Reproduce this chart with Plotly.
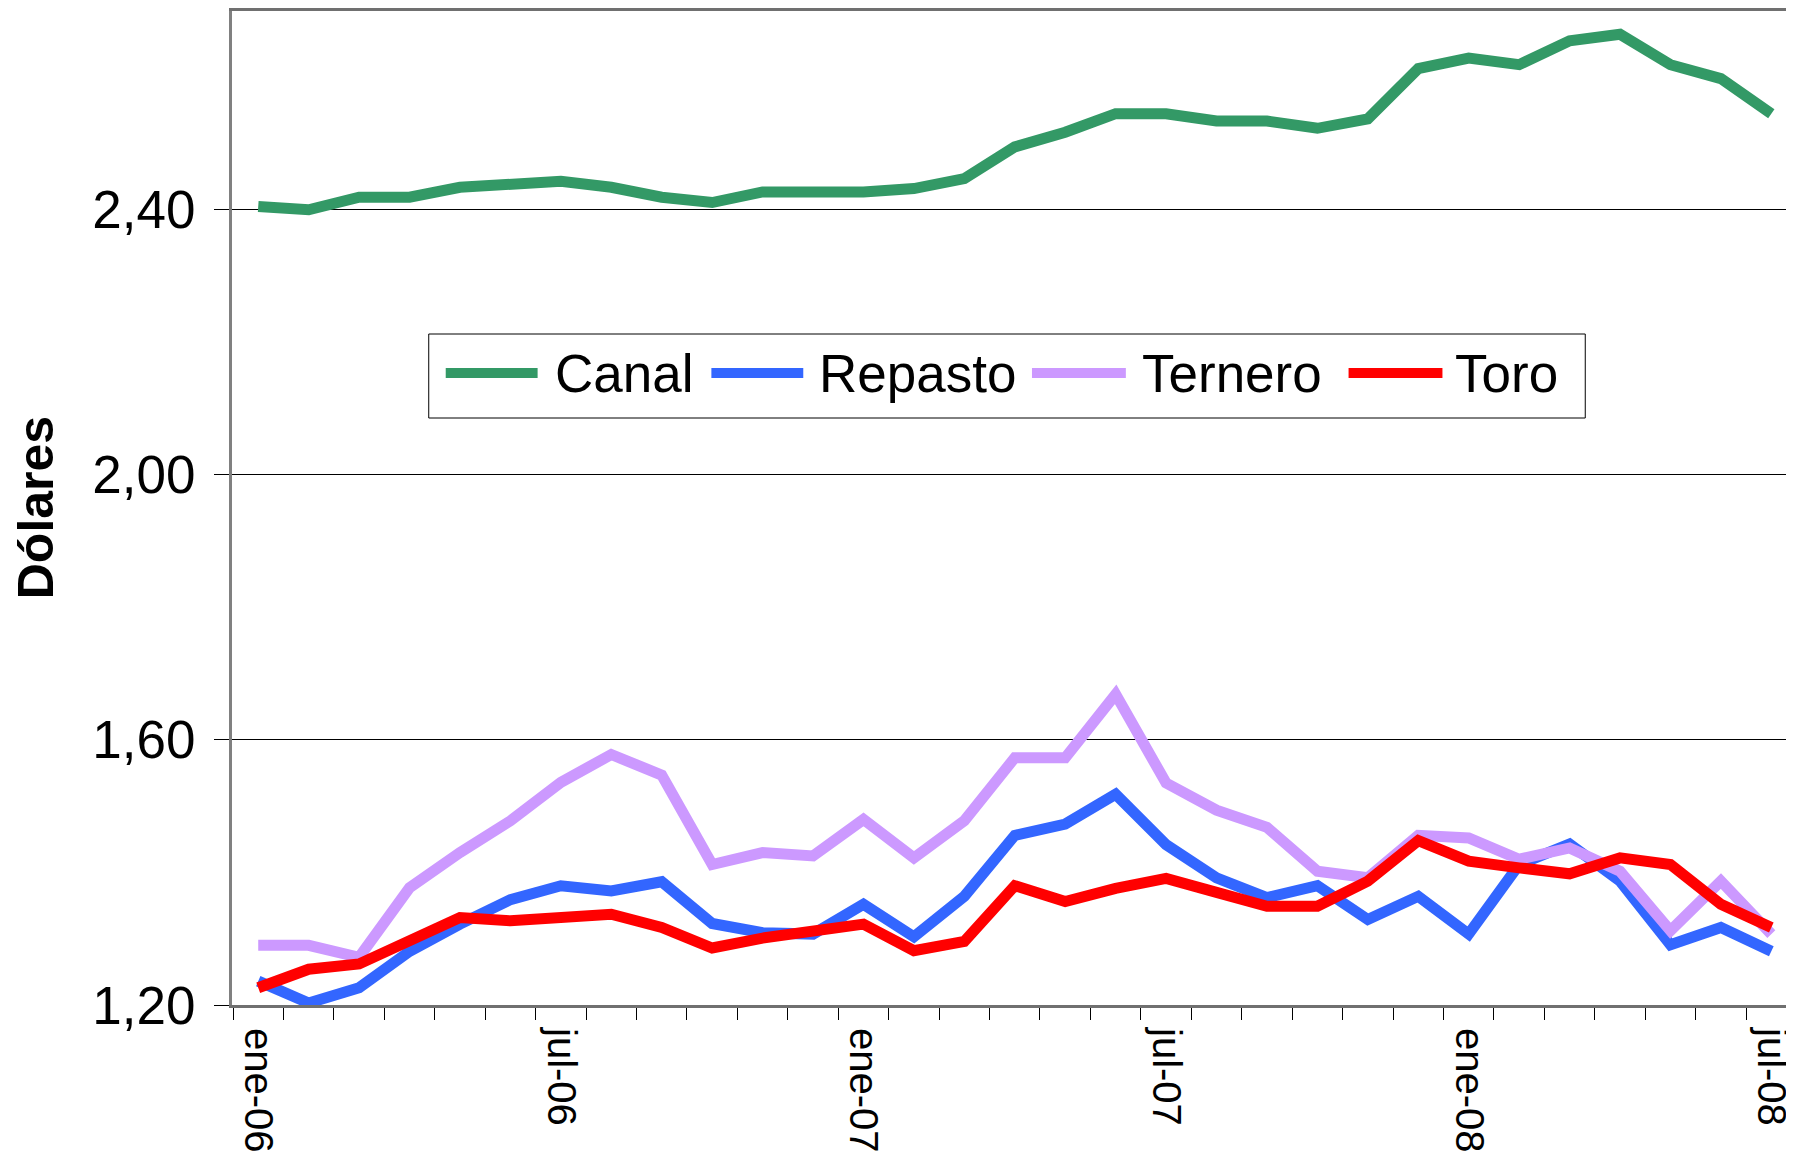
import plotly.graph_objects as go

# monthly prices, ene-06 .. jul-08
months = [
    "ene-06", "feb-06", "mar-06", "abr-06", "may-06", "jun-06",
    "jul-06", "ago-06", "sep-06", "oct-06", "nov-06", "dic-06",
    "ene-07", "feb-07", "mar-07", "abr-07", "may-07", "jun-07",
    "jul-07", "ago-07", "sep-07", "oct-07", "nov-07", "dic-07",
    "ene-08", "feb-08", "mar-08", "abr-08", "may-08", "jun-08",
    "jul-08",
]

canal = [
    2.405, 2.400, 2.419, 2.419, 2.434, 2.438, 2.443, 2.434, 2.419, 2.411,
    2.427, 2.427, 2.427, 2.432, 2.447, 2.495, 2.517, 2.545, 2.545, 2.534,
    2.534, 2.523, 2.537, 2.613, 2.629, 2.619, 2.655, 2.665, 2.619, 2.598,
    2.545,
]
repasto = [
    1.236, 1.203, 1.226, 1.281, 1.322, 1.359, 1.380, 1.372, 1.386, 1.323,
    1.309, 1.307, 1.352, 1.303, 1.364, 1.456, 1.473, 1.518, 1.442, 1.392,
    1.362, 1.380, 1.329, 1.364, 1.307, 1.412, 1.443, 1.387, 1.291, 1.317,
    1.281,
]
ternero = [
    1.290, 1.290, 1.272, 1.377, 1.430, 1.478, 1.536, 1.578, 1.547, 1.412,
    1.430, 1.425, 1.480, 1.422, 1.478, 1.573, 1.573, 1.669, 1.535, 1.494,
    1.468, 1.402, 1.392, 1.456, 1.452, 1.420, 1.437, 1.402, 1.312, 1.387,
    1.307,
]
toro = [
    1.226, 1.254, 1.262, 1.297, 1.332, 1.327, 1.332, 1.337, 1.317, 1.286,
    1.301, 1.310, 1.322, 1.282, 1.296, 1.380, 1.356, 1.376, 1.391, 1.370,
    1.349, 1.349, 1.387, 1.448, 1.417, 1.407, 1.398, 1.422, 1.412, 1.352,
    1.317,
]

series = [
    ("Canal", canal, "#339966"),
    ("Repasto", repasto, "#3366FF"),
    ("Ternero", ternero, "#CC99FF"),
    ("Toro", toro, "#FF0000"),
]

y_ticks = [1.20, 1.60, 2.00, 2.40]

FONT = "Liberation Sans, Arial, sans-serif"
# page body adds an 8px offset, so the figure is 8px smaller than the window
OFF = 8
W, H = 1794 - OFF, 1154 - OFF
ML, MR, MT, MB = 232 - OFF, 0, 11 - OFF, 149
x = list(range(len(months)))

fig = go.Figure()
for name, vals, color in series:
    fig.add_trace(go.Scatter(
        x=x, y=vals, mode="lines", name=name,
        line=dict(color=color, width=11),
        showlegend=False,
    ))


# positions below are given in window pixels
def px_x(px):
    return (px - OFF - ML) / (W - ML - MR)


def px_y(py):
    return (H - MB - (py - OFF)) / (H - MB - MT)


# hand-built legend box (Excel style: long line samples)
fig.add_shape(type="rect", xref="paper", yref="paper",
              x0=px_x(429), x1=px_x(1587), y0=px_y(418), y1=px_y(334),
              line=dict(color="black", width=1), fillcolor="white", layer="below")
leg_pos = [(446, 538, 553), (712, 804, 818), (1033, 1127, 1141), (1350, 1444, 1455)]
leg_y = px_y(373)
for (name, _, color), (lx0, lx1, tx) in zip(series, leg_pos):
    fig.add_shape(type="line", xref="paper", yref="paper",
                  x0=px_x(lx0), x1=px_x(lx1), y0=leg_y, y1=leg_y,
                  line=dict(color=color, width=10))
    fig.add_annotation(x=px_x(tx), y=leg_y, xref="paper", yref="paper",
                       text=name, showarrow=False, xanchor="left", yanchor="middle",
                       font=dict(family=FONT, size=53, color="black"))

fig.add_annotation(x=px_x(36), y=0.5, xref="paper", yref="paper",
                   text="<b>Dólares</b>", textangle=-90, showarrow=False,
                   xanchor="center", yanchor="middle",
                   font=dict(family=FONT, size=50, color="black"))

fig.update_layout(
    width=W, height=H,
    margin=dict(l=ML, r=MR, t=MT, b=MB),
    paper_bgcolor="white", plot_bgcolor="white",
    separators=",.",
    font=dict(family=FONT, color="black"),
    xaxis=dict(
        range=[-0.52, 30.41],
        tickmode="array", tickvals=x[::6], ticktext=months[::6],
        tickangle=90, ticks="", ticklabelstandoff=12,
        ticklabeloverflow="allow",
        tickfont=dict(size=40, color="black"),
        showgrid=False, zeroline=False,
        showline=True, linecolor="#707070", linewidth=3, mirror=True,
        minor=dict(tickmode="array", tickvals=[i - 0.5 for i in range(len(months) + 1)],
                   ticks="outside", ticklen=12, tickwidth=1, tickcolor="black",
                   showgrid=False),
    ),
    yaxis=dict(
        range=[1.20, 2.70],
        tickmode="array", tickvals=y_ticks, tickformat=".2f",
        ticks="outside", ticklen=15, tickcolor="black", tickwidth=1,
        ticklabelstandoff=8,
        tickfont=dict(size=53, color="black"),
        showgrid=True, gridcolor="black", gridwidth=1,
        zeroline=False,
        showline=True, linecolor="#808080", linewidth=3,
    ),
)

fig.write_html("out.html")
